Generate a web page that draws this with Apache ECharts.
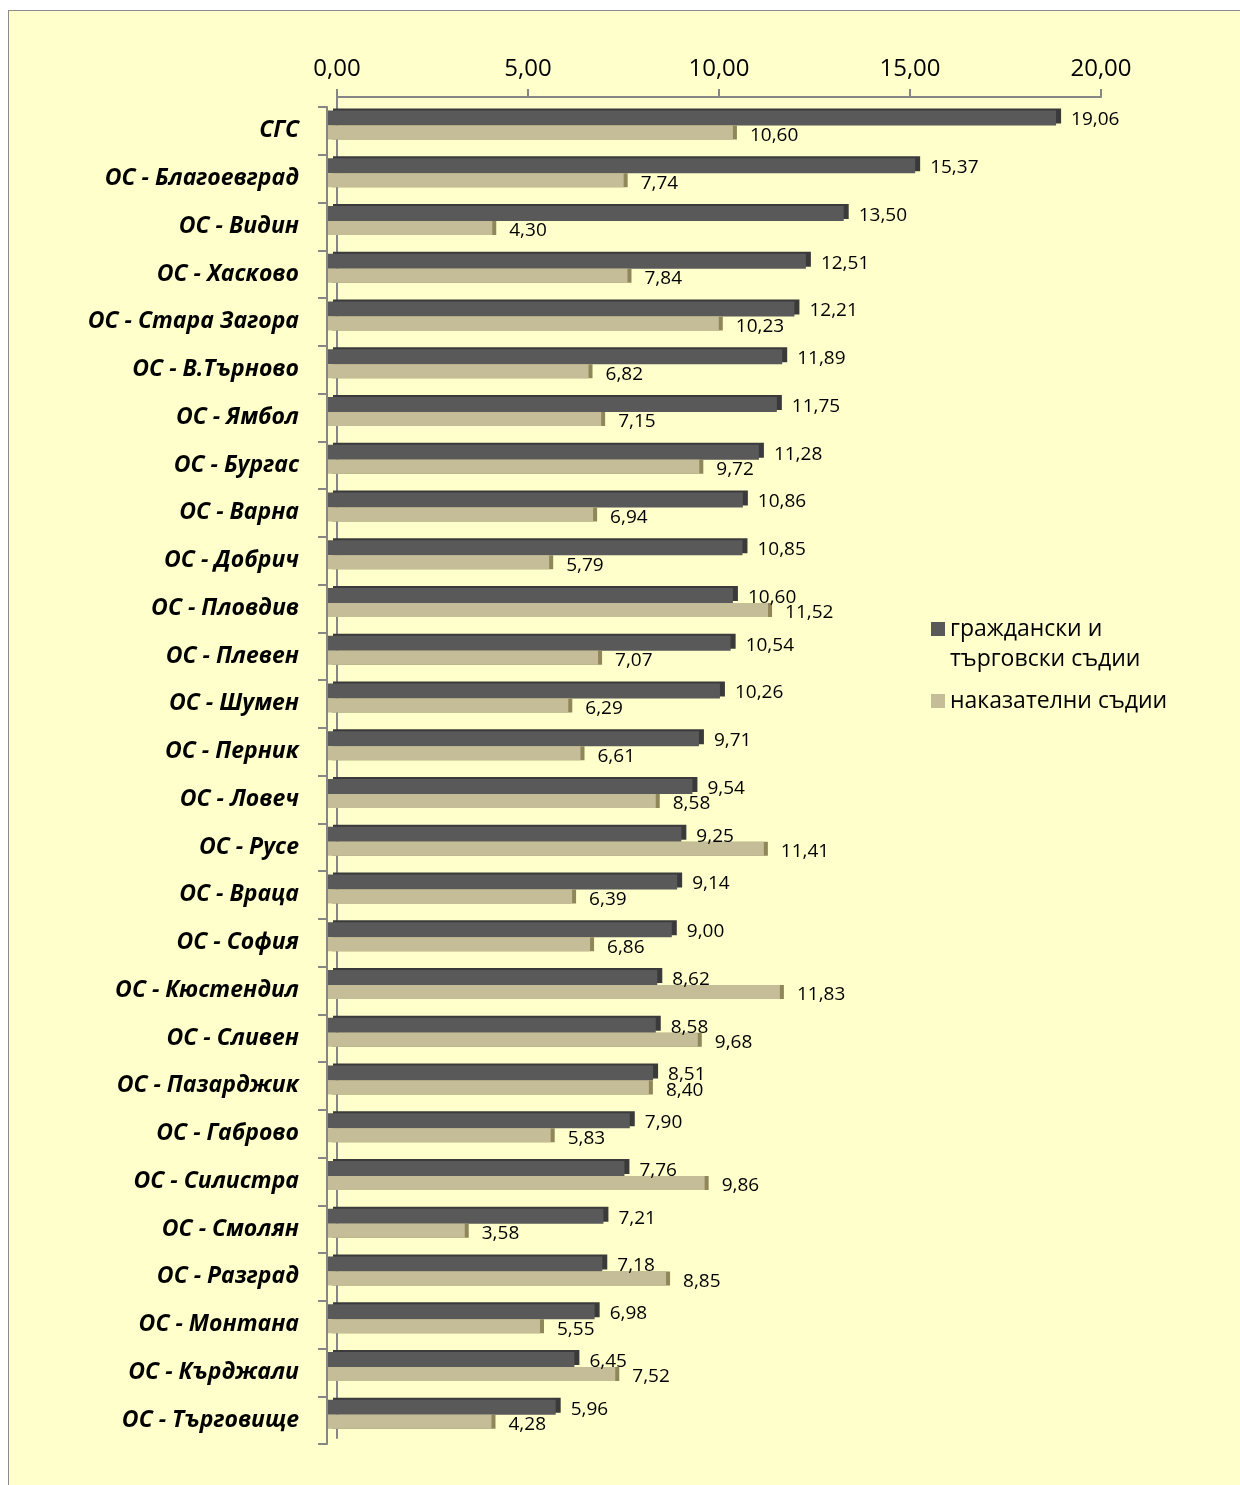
<!DOCTYPE html>
<html>
<head>
<meta charset="utf-8">
<script src="https://cdn.jsdelivr.net/npm/echarts@6/dist/echarts.min.js"></script>
<style>
  html, body { margin: 0; padding: 0; background: #fff; }
  #wrap { position: relative; width: 1240px; height: 1485px; overflow: hidden; }
  .frame { position: absolute; left: 8px; top: 10px; width: 1300px; height: 1550px;
           background: #FFFFCC; border: 1.5px solid #8c8c8c; }
  #chart { position: absolute; left: 0; top: 0; width: 1240px; height: 1485px; }
</style>
</head>
<body>
<div id="wrap">
  <div class="frame"></div>
  <div id="chart"></div>
</div>
<script>
// съдилища (отгоре надолу)
const categories = [
  'СГС', 'ОС - Благоевград', 'ОС - Видин', 'ОС - Хасково', 'ОС - Стара Загора',
  'ОС - В.Търново', 'ОС - Ямбол', 'ОС - Бургас', 'ОС - Варна', 'ОС - Добрич',
  'ОС - Пловдив', 'ОС - Плевен', 'ОС - Шумен', 'ОС - Перник', 'ОС - Ловеч',
  'ОС - Русе', 'ОС - Враца', 'ОС - София', 'ОС - Кюстендил', 'ОС - Сливен',
  'ОС - Пазарджик', 'ОС - Габрово', 'ОС - Силистра', 'ОС - Смолян', 'ОС - Разград',
  'ОС - Монтана', 'ОС - Кърджали', 'ОС - Търговище'
];
const civilValues = [
  19.06, 15.37, 13.50, 12.51, 12.21, 11.89, 11.75, 11.28, 10.86, 10.85,
  10.60, 10.54, 10.26, 9.71, 9.54, 9.25, 9.14, 9.00, 8.62, 8.58,
  8.51, 7.90, 7.76, 7.21, 7.18, 6.98, 6.45, 5.96
];
const criminalValues = [
  10.60, 7.74, 4.30, 7.84, 10.23, 6.82, 7.15, 9.72, 6.94, 5.79,
  11.52, 7.07, 6.29, 6.61, 8.58, 11.41, 6.39, 6.86, 11.83, 9.68,
  8.40, 5.83, 9.86, 3.58, 8.85, 5.55, 7.52, 4.28
];
const seriesNames = ['граждански и търговски съдии', 'наказателни съдии'];
const axisMin = 0, axisMax = 20, axisStep = 5;

const FONT = '"Open Sans", "Noto Sans", sans-serif';
const fmt = v => Number(v).toFixed(2).replace('.', ',');
const gray = '#868686';

const chart = echarts.init(document.getElementById('chart'));

const option = {
  backgroundColor: 'transparent',
  animation: false,
  textStyle: { fontFamily: FONT },
  grid: [
    // задна стена (горна ос)
    { left: 337, top: 97, width: 764, height: 1341 },
    // стълбове
    { left: 328, top: 101, width: 764, height: 1337 },
    // предна ос с имената
    { left: 327, top: 107, width: 764, height: 1337 }
  ],
  xAxis: [
    {
      gridIndex: 0, type: 'value', position: 'top',
      min: axisMin, max: axisMax, interval: axisStep,
      axisLine: { show: true, lineStyle: { color: gray, width: 2 } },
      axisTick: { show: true, length: 8, lineStyle: { color: gray, width: 2 } },
      splitLine: { show: false },
      axisLabel: { formatter: fmt, fontSize: 24, color: '#000', margin: 16, fontFamily: FONT }
    },
    { gridIndex: 1, type: 'value', min: axisMin, max: axisMax, show: false },
    { gridIndex: 2, type: 'value', min: axisMin, max: axisMax, show: false }
  ],
  yAxis: [
    {
      gridIndex: 0, type: 'category', data: categories, inverse: true,
      axisLine: { show: true, lineStyle: { color: gray, width: 2 } },
      axisTick: { show: false }, axisLabel: { show: false }
    },
    { gridIndex: 1, type: 'category', data: categories, inverse: true, show: false },
    {
      gridIndex: 2, type: 'category', data: categories, inverse: true,
      axisLine: { show: true, lineStyle: { color: gray, width: 2 } },
      axisTick: { show: true, length: 9, lineStyle: { color: gray, width: 2 } },
      axisLabel: {
        fontSize: 23, fontWeight: 'bold', fontStyle: 'italic', color: '#000',
        margin: 28, fontFamily: FONT
      }
    }
  ],
  legend: [
    {
      data: [seriesNames[0]], orient: 'vertical', left: 931, top: 584, padding: 0,
      itemWidth: 14, itemHeight: 14, icon: 'rect',
      formatter: () => '\nграждански и\nтърговски съдии',
      itemStyle: { shadowColor: 'transparent' },
      textStyle: { fontSize: 23, lineHeight: 30, color: '#000', fontFamily: FONT }
    },
    {
      data: [seriesNames[1]], orient: 'vertical', left: 931, top: 686, padding: 0,
      itemWidth: 14, itemHeight: 14, icon: 'rect',
      itemStyle: { shadowColor: 'transparent' },
      textStyle: { fontSize: 23, lineHeight: 30, color: '#000', fontFamily: FONT }
    }
  ],
  series: [
    {
      name: seriesNames[0], type: 'bar', xAxisIndex: 1, yAxisIndex: 1,
      data: civilValues, barWidth: 15, barGap: '0%',
      itemStyle: {
        color: '#595959',
        shadowColor: '#3a3a3a', shadowOffsetX: 5, shadowOffsetY: -2, shadowBlur: 0
      },
      label: {
        show: true, position: 'right', distance: 15, offset: [0, 2],
        formatter: p => fmt(p.value), fontSize: 19, color: '#000', fontFamily: FONT
      }
    },
    {
      name: seriesNames[1], type: 'bar', xAxisIndex: 1, yAxisIndex: 1,
      data: criminalValues, barWidth: 14, barGap: '0%',
      itemStyle: {
        color: '#C4BD97',
        shadowColor: '#8f8659', shadowOffsetX: 4, shadowOffsetY: 0, shadowBlur: 0
      },
      label: {
        show: true, position: 'right', distance: 17, offset: [0, 3],
        formatter: p => fmt(p.value), fontSize: 19, color: '#000', fontFamily: FONT
      }
    }
  ]
};

chart.setOption(option);
</script>
</body>
</html>
